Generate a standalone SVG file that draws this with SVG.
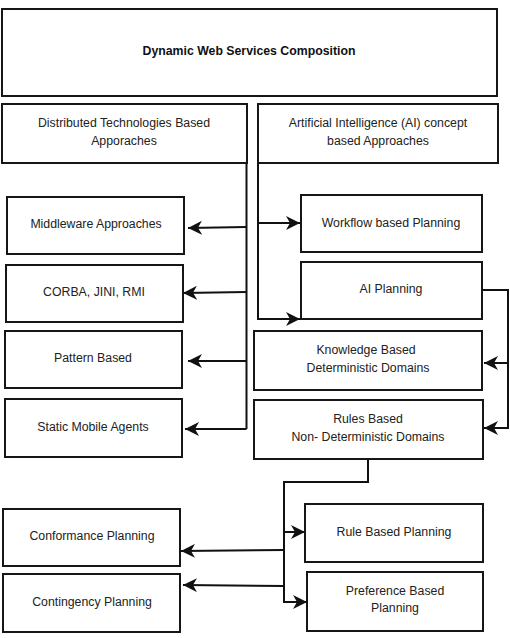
<svg xmlns="http://www.w3.org/2000/svg" width="510" height="638" viewBox="0 0 510 638">
<style>
.box{fill:#fff;stroke:#161616;stroke-width:2}
.t{font-family:"Liberation Sans",Arial,sans-serif;font-size:12.3px;fill:#222;text-anchor:middle}
.b{font-weight:bold;fill:#111}
.c{fill:none;stroke:#111;stroke-width:2}
</style>
<defs>
<marker id="ah" viewBox="0 0 14 14" refX="14" refY="7" markerWidth="14" markerHeight="14" markerUnits="userSpaceOnUse" orient="auto">
<path d="M0,0 L14,7 L0,14 L4,7 z" fill="#111"/>
</marker>
</defs>
<rect width="510" height="638" fill="#fff"/>
<g id="n-root"><rect class="box" x="2" y="9" width="495" height="87"/><text class="t b" x="249" y="55">Dynamic Web Services Composition</text></g>
<g id="n-dist"><rect class="box" x="2" y="104" width="245" height="59"/><text class="t" x="124" y="127">Distributed Technologies Based</text><text class="t" x="124" y="145">Apporaches</text></g>
<g id="n-ai"><rect class="box" x="258" y="104" width="240" height="59"/><text class="t" x="378" y="127">Artificial Intelligence (AI) concept</text><text class="t" x="378" y="145">based Approaches</text></g>
<g id="n-mid"><rect class="box" x="7" y="197" width="177" height="57"/><text class="t" x="96" y="228">Middleware Approaches</text></g>
<g id="n-corba"><rect class="box" x="6" y="265" width="177" height="57"/><text class="t" x="94" y="296">CORBA, JINI, RMI</text></g>
<g id="n-pattern"><rect class="box" x="5" y="331" width="177" height="57"/><text class="t" x="93" y="362">Pattern Based</text></g>
<g id="n-static"><rect class="box" x="5" y="399" width="177" height="58"/><text class="t" x="93" y="431">Static Mobile Agents</text></g>
<g id="n-workflow"><rect class="box" x="301" y="195" width="181" height="57"/><text class="t" x="391" y="227">Workflow based Planning</text></g>
<g id="n-aiplan"><rect class="box" x="301" y="262" width="181" height="57"/><text class="t" x="391" y="293">AI Planning</text></g>
<g id="n-know"><rect class="box" x="254" y="331" width="228" height="59"/><text class="t" x="366" y="354">Knowledge Based</text><text class="t" x="368" y="372">Deterministic Domains</text></g>
<g id="n-rules"><rect class="box" x="254" y="400" width="229" height="59"/><text class="t" x="368" y="423">Rules Based</text><text class="t" x="368" y="441">Non- Deterministic Domains</text></g>
<g id="n-conf"><rect class="box" x="3" y="509" width="177" height="57"/><text class="t" x="92" y="540">Conformance Planning</text></g>
<g id="n-cont"><rect class="box" x="3" y="574" width="177" height="58"/><text class="t" x="92" y="606">Contingency Planning</text></g>
<g id="n-rule"><rect class="box" x="305" y="504" width="178" height="58"/><text class="t" x="394" y="536">Rule Based Planning</text></g>
<g id="n-pref"><rect class="box" x="307" y="572" width="176" height="59"/><text class="t" x="395" y="595">Preference Based</text><text class="t" x="395" y="612">Planning</text></g>
<g id="connectors">
<path class="c" d="M246.5,163 V429"/>
<path class="c" d="M246.5,227 L188,228" marker-end="url(#ah)"/>
<path class="c" d="M246.5,292 L183,293" marker-end="url(#ah)"/>
<path class="c" d="M246.5,361 H188" marker-end="url(#ah)"/>
<path class="c" d="M246.5,429 H185" marker-end="url(#ah)"/>
<path class="c" d="M258,163 V319 H300" marker-end="url(#ah)"/>
<path class="c" d="M258,223 H300" marker-end="url(#ah)"/>
<path class="c" d="M482,290 H508 V428 H484" marker-end="url(#ah)"/>
<path class="c" d="M508,363 H484" marker-end="url(#ah)"/>
<path class="c" d="M368,459 V482 H284 V602 H307" marker-end="url(#ah)"/>
<path class="c" d="M284,532 H305" marker-end="url(#ah)"/>
<path class="c" d="M284,550 L181,551" marker-end="url(#ah)"/>
<path class="c" d="M284,586 L183,585" marker-end="url(#ah)"/>
</g>
</svg>
